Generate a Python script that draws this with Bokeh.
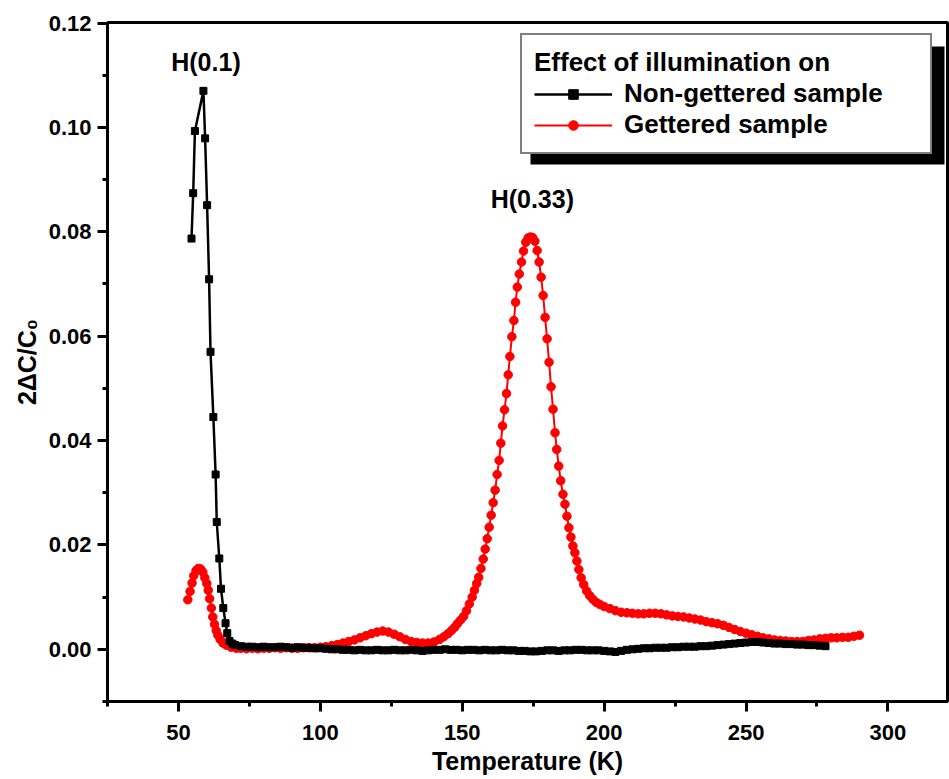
from bokeh.plotting import figure
from bokeh.models import (Range1d, SingleIntervalTicker, PrintfTickFormatter, Legend, LegendItem,
                          Label, BoxAnnotation)
from bokeh.embed import file_html
from bokeh.resources import INLINE

# ---------------- data ----------------
black_T = [54.6, 55.2, 55.8, 58.8, 59.4, 60.1, 60.8, 61.3, 62.3, 63.1, 63.5, 64.4, 65.0, 65.8, 66.6, 67.2,
           68, 69, 70, 72, 74, 76, 78, 80, 82, 84, 86, 88, 90, 92, 94, 96, 98, 100, 102, 104, 106, 108,
           110, 112, 114, 116, 118, 120, 122, 124, 126, 128, 130, 132, 134, 136, 138, 140, 142, 144, 146,
           148, 150, 152, 154, 156, 158, 160, 162, 164, 166, 168, 170, 172, 174, 176, 178, 180, 182, 184,
           186, 188, 190, 192, 194, 196, 198, 200, 202, 204, 206, 208, 210, 212, 214, 216, 218, 220, 222,
           224, 226, 228, 230, 232, 234, 236, 238, 240, 242, 244, 246, 248, 250, 252, 254, 256, 258, 260,
           262, 264, 266, 268, 270, 272, 274, 276, 278]
black_C = [0.0787, 0.0874, 0.0993, 0.1070, 0.0979, 0.0851, 0.0709, 0.0570, 0.0445, 0.0335, 0.0244, 0.0174,
           0.0116, 0.0079, 0.0050, 0.0031,
           0.0016, 0.0011, 0.0008, 0.0006, 0.0005, 0.0005, 0.0004, 0.0005, 0.0004, 0.0004, 0.0005, 0.0004,
           0.0003, 0.0004, 0.0003, 0.0003, 0.0002, 0.0002, 0.0001, 0.0000, 0.0000, -0.0001, -0.0001, -0.0002,
           -0.0001, -0.0002, -0.0002, -0.0001, -0.0002, -0.0002, -0.0001, -0.0002, -0.0002, -0.0001, -0.0002,
           -0.0003, -0.0002, -0.0001, -0.0001, 0.0000, -0.0001, -0.0001, -0.0002, -0.0001, -0.0001, -0.0002,
           -0.0001, -0.0002, -0.0002, -0.0001, -0.0002, -0.0002, -0.0003, -0.0003, -0.0004, -0.0004, -0.0003,
           -0.0002, -0.0002, -0.0003, -0.0002, -0.0002, -0.0001, -0.0001, -0.0002, -0.0002, -0.0002, -0.0003,
           -0.0004, -0.0005, -0.0003, -0.0001, 0.0000, 0.0001, 0.0002, 0.0002, 0.0003, 0.0003, 0.0003, 0.0004,
           0.0004, 0.0005, 0.0005, 0.0005, 0.0006, 0.0006, 0.0007, 0.0008, 0.0009, 0.0010, 0.0011, 0.0012,
           0.0013, 0.0014, 0.0014, 0.0013, 0.0012, 0.0011, 0.0011, 0.0010, 0.0010, 0.0009, 0.0009, 0.0008,
           0.0008, 0.0007, 0.0006]

red_T = [53.3, 54.1, 54.8, 55.4, 56.2, 57.0, 57.8, 58.6, 59.3, 60.0, 60.5, 61.0, 61.6, 62.1, 62.7, 63.3,
         63.9, 64.7, 65.7, 66.9, 68.6, 70.4, 72, 74, 76, 78, 80, 82, 84, 86, 88, 90, 92, 94, 96, 98, 100,
         102, 104, 106, 108, 110, 112, 114, 116, 118, 120, 122, 124, 126, 128, 130, 132, 134, 136, 138, 140,
         142, 143.5, 145.0, 146.2, 147.3, 148.3, 149.4, 150.5, 151.5, 152.5, 153.5, 154.3, 155.1, 155.8,
         156.6, 157.4, 158.1, 158.8, 159.5, 160.2, 160.9, 161.6, 162.3, 163.0, 163.6, 164.2, 164.9, 165.6,
         166.2, 166.8, 167.5, 168.2, 168.8, 169.4, 170.1, 170.9, 171.6, 172.4, 173.2, 174.0, 174.8, 175.6,
         176.4, 177.1, 177.8, 178.5, 179.2, 179.9, 180.6, 181.3, 182.0, 182.7, 183.3, 184.0, 184.7, 185.5,
         186.2, 186.9, 187.6, 188.3, 189.0, 189.7, 190.4, 191.1, 191.9, 192.8, 193.8, 194.9, 196.0, 197.2,
         198.5, 200, 202, 204, 206, 208, 210, 212, 214, 216, 218, 220, 222, 224, 226, 228, 230, 232, 234,
         236, 238, 240, 242, 244, 246, 248, 250, 252, 254, 256, 258, 260, 262, 264, 266, 268, 270, 272, 274,
         276, 278, 280, 282, 284, 286, 288, 290]
red_C = [0.0095, 0.0111, 0.0127, 0.0141, 0.0151, 0.0155, 0.0154, 0.0148, 0.0137, 0.0126, 0.0113, 0.0097,
         0.0079, 0.0062, 0.0048, 0.0036, 0.0027, 0.0019, 0.0012, 0.0008, 0.0004, 0.0002, 0.0002, 0.0001,
         0.0002, 0.0001, 0.0002, 0.0002, 0.0003, 0.0002, 0.0003, 0.0002, 0.0002, 0.0003, 0.0003, 0.0003,
         0.0004, 0.0005, 0.0007, 0.0009, 0.0012, 0.0015, 0.0018, 0.0022, 0.0026, 0.0030, 0.0033, 0.0035,
         0.0033, 0.0029, 0.0024, 0.0019, 0.0015, 0.0013, 0.0012, 0.0012, 0.0014, 0.0019, 0.0024, 0.0030,
         0.0036, 0.0042, 0.0049, 0.0056, 0.0063, 0.0074, 0.0087, 0.0100, 0.0113, 0.0126, 0.0138, 0.0155,
         0.0173, 0.0192, 0.0212, 0.0234, 0.0257, 0.0281, 0.0305, 0.0335, 0.0362, 0.0395, 0.0428, 0.0459,
         0.0490, 0.0526, 0.0561, 0.0599, 0.0630, 0.0665, 0.0694, 0.0719, 0.0742, 0.0763, 0.0780, 0.0788,
         0.0790, 0.0789, 0.0782, 0.0764, 0.0742, 0.0713, 0.0678, 0.0636, 0.0595, 0.0550, 0.0503, 0.0460,
         0.0415, 0.0383, 0.0351, 0.0323, 0.0297, 0.0278, 0.0255, 0.0233, 0.0215, 0.0198, 0.0185, 0.0169,
         0.0153, 0.0137, 0.0124, 0.0112, 0.0103, 0.0096, 0.0090, 0.0086, 0.0082, 0.0078, 0.0074, 0.0071,
         0.0070, 0.0069, 0.0068, 0.0068, 0.0069, 0.0069, 0.0068, 0.0066, 0.0064, 0.0063, 0.0062, 0.0060,
         0.0058, 0.0056, 0.0053, 0.0051, 0.0049, 0.0046, 0.0042, 0.0038, 0.0034, 0.0031, 0.0028, 0.0025,
         0.0022, 0.0020, 0.0018, 0.0017, 0.0016, 0.0015, 0.0015, 0.0015, 0.0017, 0.0018, 0.0020, 0.0021,
         0.0022, 0.0022, 0.0023, 0.0023, 0.0025, 0.0027]

series_labels = ["Non-gettered sample", "Gettered sample"]
legend_title = "Effect of illumination on"
peak_labels = ["H(0.1)", "H(0.33)"]
peak_label_T = [59.7, 174.7]
peak_label_C = [0.1125, 0.0862]

x_title = "Temperature (K)"
y_title = "2\u0394C/C\u2080"

# ---------------- layout ----------------
FONT = "Liberation Sans"
X0, X1 = 25, 321
Y0, Y1 = -0.01, 0.1201
W, H = 949, 779
BL, BR, BT, BB = 107, 2, 22, 78
FW, FH = W - BL - BR, H - BT - BB

p = figure(width=W, height=H, output_backend="svg", toolbar_location=None,
           x_range=Range1d(X0, X1), y_range=Range1d(Y0, Y1),
           min_border_left=BL, min_border_right=BR, min_border_top=BT, min_border_bottom=BB)
p.background_fill_color = "white"
p.border_fill_color = "white"
p.outline_line_color = "black"
p.outline_line_width = 3
p.xgrid.visible = False
p.ygrid.visible = False

p.xaxis.ticker = SingleIntervalTicker(interval=50, num_minor_ticks=2)
p.yaxis.ticker = SingleIntervalTicker(interval=0.02, num_minor_ticks=2)
p.yaxis.formatter = PrintfTickFormatter(format="%.2f")
for ax in (p.xaxis[0], p.yaxis[0]):
    ax.axis_line_width = 3
    ax.axis_line_color = "black"
    ax.major_tick_line_width = 3
    ax.minor_tick_line_width = 3
    ax.major_tick_in = 0
    ax.minor_tick_in = 0
    ax.major_tick_out = 10
    ax.minor_tick_out = 5
    ax.major_label_text_font = FONT
    ax.major_label_text_font_style = "bold"
    ax.major_label_text_font_size = "22px"
    ax.major_label_text_color = "black"
    ax.axis_label_text_font = FONT
    ax.axis_label_text_font_style = "bold"
    ax.axis_label_text_font_size = "25px"
    ax.axis_label_text_color = "black"
p.xaxis.axis_label = x_title
p.yaxis.axis_label = y_title
p.xaxis.major_label_standoff = 13
p.xaxis.axis_label_standoff = 4
p.yaxis.major_label_standoff = 6
p.yaxis.axis_label_standoff = 5

# ---------------- series ----------------
r_line = p.line(red_T, red_C, line_color="red", line_width=2)
r_pts = p.scatter(red_T, red_C, marker="circle", size=8.5, fill_color="red", line_color="red")
b_line = p.line(black_T, black_C, line_color="black", line_width=2.5)
b_pts = p.scatter(black_T, black_C, marker="square", size=7, fill_color="black", line_color="black")

for txt, tx, ty in zip(peak_labels, peak_label_T, peak_label_C):
    p.add_layout(Label(x=tx, y=ty, text=txt, text_align="center", text_baseline="middle",
                       text_font=FONT, text_font_style="bold", text_font_size="25px",
                       text_color="black"))

# ---------------- legend with shadow ----------------
LEG_X, LEG_Y = 413, 547      # bottom-left corner of legend, px from frame bottom-left
LEG_W, LEG_H = 414, 118       # expected legend box size, px
SH = 10                       # shadow offset, px

def px2x(px):
    return X0 + px / FW * (X1 - X0)

def px2y(py):
    return Y0 + py / FH * (Y1 - Y0)

shadow = BoxAnnotation(left=px2x(LEG_X + SH), right=px2x(LEG_X + SH + LEG_W),
                       bottom=px2y(LEG_Y - SH), top=px2y(LEG_Y - SH + LEG_H),
                       fill_color="black", fill_alpha=1.0, line_color=None)
p.add_layout(shadow)

legend = Legend(items=[LegendItem(label=series_labels[0], renderers=[b_line, b_pts]),
                       LegendItem(label=series_labels[1], renderers=[r_line, r_pts])],
                location=(LEG_X, LEG_Y), title=legend_title,
                title_text_font=FONT, title_text_font_style="bold", title_text_font_size="26px",
                title_text_color="black", title_standoff=0,
                label_text_font=FONT, label_text_font_style="bold", label_text_font_size="26px",
                label_text_color="black", label_standoff=12, label_width=294, label_height=24,
                glyph_width=78, glyph_height=24, spacing=0, padding=12, margin=0,
                border_line_color="black", border_line_width=2,
                background_fill_color="white", background_fill_alpha=1.0)
p.add_layout(legend)

open("out.html", "w").write(file_html(p, INLINE))
